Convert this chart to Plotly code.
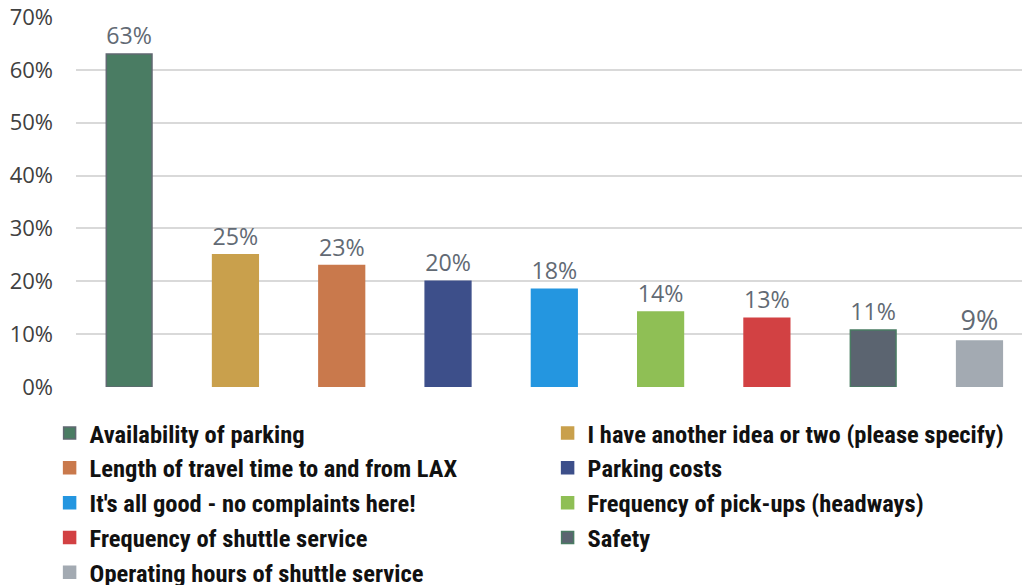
import plotly.graph_objects as go

categories = [
    "Availability of parking",
    "I have another idea or two (please specify)",
    "Length of travel time to and from LAX",
    "Parking costs",
    "It's all good - no complaints here!",
    "Frequency of pick-ups (headways)",
    "Frequency of shuttle service",
    "Safety",
    "Operating hours of shuttle service",
]
values = [0.63, 0.25, 0.23, 0.20, 0.185, 0.142, 0.13, 0.108, 0.087]
labels = ["63%", "25%", "23%", "20%", "18%", "14%", "13%", "11%", "9%"]
colors = ["#4a7c63", "#c9a04c", "#c9794c", "#3d4f8a", "#2496e0",
          "#8fbf55", "#d24143", "#5b6470", "#a3aab2"]
outlines = ["#606872", "#c9a04c", "#c9794c", "#3d4f8a", "#2496e0",
            "#8fbf55", "#d24143", "#4a7c63", "#a3aab2"]
tick_vals = [0, 0.1, 0.2, 0.3, 0.4, 0.5, 0.6, 0.7]
tick_text = ["0%", "10%", "20%", "30%", "40%", "50%", "60%", "70%"]

fig = go.Figure()
for i, (c, v, t) in enumerate(zip(categories, values, labels)):
    fig.add_trace(go.Bar(
        x=[i], y=[v], name=c, text=[t], textposition="outside",
        textfont=dict(family="Open Sans, Liberation Sans, sans-serif", size=27, color="#626a74"),
        marker=dict(color=colors[i], line=dict(color=outlines[i], width=1.5)),
        width=0.43, cliponaxis=False,
    ))

fig.update_layout(
    width=1022, height=585,
    margin=dict(l=76, r=0, t=17, b=198, autoexpand=False),
    paper_bgcolor="white", plot_bgcolor="white",
    barmode="overlay",
    showlegend=True,
    legend=dict(
        orientation="h", x=-0.0279, xanchor="left", y=-0.0636, yanchor="top",
        entrywidth=453, entrywidthmode="pixels",
        font=dict(family="Liberation Sans Narrow, Roboto Condensed, Arial Narrow, sans-serif",
                  size=24.5, color="#111111", weight="bold"),
        traceorder="normal",
    ),
)
fig.update_xaxes(range=[-0.5, 8.4], showticklabels=False, showgrid=False,
                 zeroline=False, showline=False, ticks="")
fig.update_yaxes(range=[0, 0.70], tickvals=tick_vals, ticktext=tick_text,
                 showgrid=True, gridcolor="#d9d9d9", gridwidth=2,
                 zeroline=False, showline=False, ticks="", ticklabelstandoff=22,
                 tickfont=dict(family="Open Sans, Liberation Sans, sans-serif", size=22, color="#404040"))

fig.write_html("out.html", config={"displayModeBar": False},
               post_script="document.body.style.margin='0';document.body.style.overflow='hidden';")
